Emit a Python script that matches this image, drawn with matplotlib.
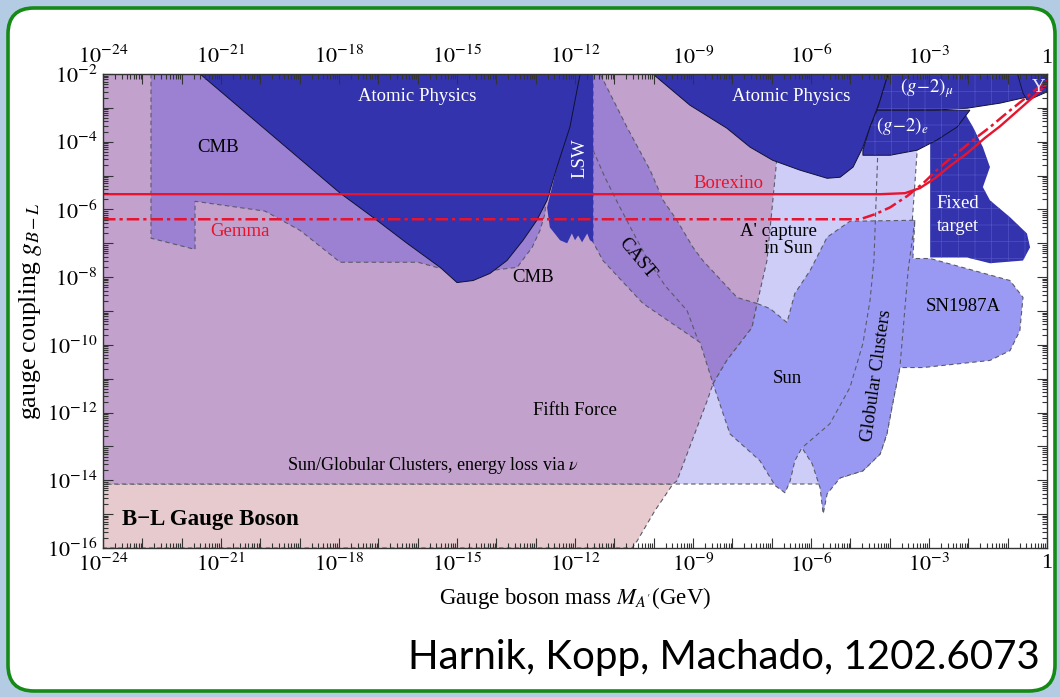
"""B-L gauge boson exclusion plot (Harnik, Kopp, Machado 1202.6073), redrawn."""

import numpy as np
import matplotlib

matplotlib.use("Agg")
import matplotlib.pyplot as plt
from matplotlib.patches import Polygon, FancyBboxPatch
from matplotlib.ticker import FixedLocator, FuncFormatter, LogLocator, NullFormatter
from matplotlib.transforms import IdentityTransform

plt.rcParams["font.family"] = ["Liberation Serif", "DejaVu Serif"]
plt.rcParams["mathtext.fontset"] = "stix"
plt.rcParams["hatch.linewidth"] = 0.5

# region boundaries, log10 of mass [GeV] and log10 of coupling g_{B-L}
nu_loss_g = -14.11  # Sun/GC energy loss via neutrinos

fifth_m = [-24, -6.79, -6.86, -6.97, -7.12, -7.37, -7.50, -8.14, -8.49, -8.64,
           -8.90, -9.15, -9.41, -9.51, -9.97, -10.42, -10.55, -24]
fifth_g = [-2, -2, -4.40, -5.73, -7.51, -8.78, -9.49, -10.46, -11.15, -11.65,
           -12.45, -13.22, -14.02, -14.11, -14.90, -15.79, -16.0, -16.0]

lav_m = [-24, -3.28, -3.30, -3.53, -3.74, -3.91, -4.07, -4.24, -4.68, -5.26, -5.52, -24]
lav_g = [-2, -2, -4.25, -8.10, -10.67, -11.65, -12.63, -13.22, -13.72, -13.93,
         nu_loss_g, nu_loss_g]

cmb_m = [-22.78, -22.78, -21.66, -21.66, -19.88, -18.99, -17.97, -15.99, -15.43,
         -14.11, -13.47, -13.09, -12.89, -12.76, -12.64]
cmb_g = [-2, -6.85, -7.18, -5.76, -6.05, -6.62, -7.56, -7.56, -7.74, -7.80, -7.71,
         -7.12, -6.62, -6.11, -2]

cast_m = [-11.54, -11.36, -10.68, -10.09, -9.76, -9.41, -9.0, -8.75, -7.88, -7.37,
          -7.50, -8.14, -8.49, -8.82, -10.27, -11.29, -11.54]
cast_g = [-2, -2, -3.57, -4.84, -5.73, -6.32, -7.12, -7.51, -8.60, -8.78, -9.49,
          -10.46, -11.15, -9.93, -8.78, -7.51, -6.97]
cast_in_m = [-11.54, -11.24, -10.91, -10.55, -10.14, -9.71, -9.15, -8.87]
cast_in_g = [-4.25, -5.05, -5.82, -6.62, -7.51, -8.25, -8.99, -9.87]

sun_m = [-8.49, -8.14, -7.50, -7.37, -7.04, -6.61, -6.41, -6.02, -5.59, -5.01, -3.36,
         -3.41, -2.97, -0.94, -0.61, -0.69, -0.94, -1.45, -3.15, -3.74, -3.91, -4.07,
         -4.24, -4.68, -5.26, -5.59, -5.69, -5.77, -5.97, -6.23, -6.41, -6.53, -6.66,
         -6.91, -7.30, -8.06]
sun_g = [-11.15, -10.46, -9.49, -8.78, -8.93, -9.34, -8.48, -7.80, -6.82, -6.35, -6.32,
         -7.45, -7.45, -8.10, -8.60, -9.58, -10.17, -10.46, -10.67, -10.67, -11.65,
         -12.63, -13.22, -13.72, -13.93, -14.40, -14.99, -14.22, -13.51, -13.04,
         -13.42, -14.02, -14.37, -14.16, -13.42, -12.63]
gc_left_m = [-4.30, -4.40, -4.50, -4.68, -5.01, -5.52, -6.23]
gc_left_g = [-4.25, -7.51, -8.69, -9.96, -11.26, -12.33, -13.04]
gc_right_m = [-3.36, -3.53, -3.74]
gc_right_g = [-6.32, -7.80, -10.67]

atom1_m = [-21.53, -17.97, -17.14, -16.27, -15.43, -15.0, -14.59, -14.16, -13.73,
           -13.32, -12.97, -12.71, -12.46, -12.13, -11.87]
atom1_g = [-2, -5.52, -6.23, -7.00, -7.71, -8.16, -8.10, -7.89, -7.51, -6.91, -6.32,
           -5.73, -4.75, -3.57, -2]
atom2_m = [-10.02, -9.08, -8.14, -7.55, -6.97, -6.28, -5.59, -5.26, -4.93, -4.68,
           -4.50, -4.24, -4.04]
atom2_g = [-2, -2.92, -3.60, -4.16, -4.55, -4.84, -5.08, -5.05, -4.75, -4.16, -3.57,
           -2.77, -2]
lsw_m = [-12.25, -11.54, -11.54, -11.62, -11.69, -11.82, -11.92, -12.0, -12.08,
         -12.20, -12.38, -12.64, -12.71, -12.46]
lsw_g = [-2, -2, -6.97, -6.91, -6.71, -6.97, -6.77, -6.91, -6.71, -7.0, -6.91, -6.53,
         -5.94, -4.75]
gm2mu_m = [-4.04, -4.24, -4.32, -2.90, -2.03, -1.19, -0.51, 0, 0]
gm2mu_g = [-2, -2.77, -3.07, -3.07, -3.01, -2.86, -2.68, -2.33, -2]
gm2e_m = [-4.32, -4.50, -4.68, -4.68, -3.99, -3.30, -2.80, -2.29, -1.96]
gm2e_g = [-3.07, -3.57, -4.25, -4.40, -4.40, -4.25, -3.95, -3.57, -3.07]
fixed_m = [-2.97, -2.97, -2.03, -1.45, -0.61, -0.43, -0.51, -0.94, -1.45, -1.63,
           -1.45, -1.63, -1.88, -2.13]
fixed_g = [-3.66, -7.42, -7.42, -7.59, -7.51, -7.12, -6.71, -6.23, -5.73, -5.34,
           -4.75, -4.16, -3.57, -3.07]
ups_m = [-0.75, -0.61, -0.51, -0.35, 0, 0]
ups_g = [-2, -2.56, -2.77, -2.71, -2.53, -2]

borexino_m = [-24, -4.24, -3.61, -3.23, -2.85, -2.47, -2.03, -1.58, -1.19, -0.76, -0.35, 0]
borexino_g = [-5.55, -5.55, -5.52, -5.37, -5.08, -4.72, -4.34, -3.89, -3.54, -3.10,
              -2.68, -2.30]
gemma_m = [-24, -4.75, -4.37, -3.99, -3.56, -3.15, -2.72, -2.29, -1.88, -1.45, -1.02,
           -0.61, 0]
gemma_g = [-6.29, -6.29, -6.14, -5.94, -5.61, -5.23, -4.75, -4.34, -3.95, -3.57, -3.15,
           -2.77, -2.18]

PINK, MAUVE, LAV = "#E7CACD", "#C2A2CD", "#CDCDF8"
PURPLE, MBLUE, DBLUE = "#9C80D2", "#9999F3", "#3333AD"
RED = "#E8132D"
DASH = (0, (4, 3))
EDGE = "#5a5a6a"


def pts(m, g):
    return np.column_stack([10.0 ** np.asarray(m, float), 10.0 ** np.asarray(g, float)])


def region(ax, m, g, color, z, edge="none", ls="-", lw=0.8, hatch=False):
    xy = pts(m, g)
    ax.add_patch(Polygon(xy, closed=True, facecolor=color, edgecolor=edge,
                         linestyle=ls, lw=lw, zorder=z))
    if hatch:
        ax.add_patch(Polygon(xy, closed=True, fill=False, hatch="+",
                             edgecolor="#5252c4", lw=0, zorder=z + 0.01))


def curve(ax, m, g, **kw):
    xy = pts(m, g)
    ax.plot(xy[:, 0], xy[:, 1], **kw)


fig = plt.figure(figsize=(10.6, 6.97), dpi=100)
fig.patch.set_facecolor("#B3CCE4")
frame = FancyBboxPatch((8, 6), 1047, 683, boxstyle="round,pad=0,rounding_size=26",
                       transform=IdentityTransform(), facecolor="white",
                       edgecolor="#168A16", lw=2.6, zorder=-5)
fig.add_artist(frame)

ax = fig.add_axes([103 / 1060, 1 - 548 / 697, 944 / 1060, 474 / 697])
ax.set_xscale("log")
ax.set_yscale("log")
ax.set_xlim(1e-24, 1)
ax.set_ylim(1e-16, 1e-2)

# layered exclusion regions
region(ax, fifth_m, fifth_g, PINK, 1.0, EDGE, DASH)
region(ax, lav_m, lav_g, LAV, 1.1, EDGE, DASH)
region(ax, fifth_m, np.maximum(fifth_g, nu_loss_g), MAUVE, 1.2, EDGE, DASH)
region(ax, cmb_m, cmb_g, PURPLE, 1.3, EDGE, DASH)
region(ax, cast_m, cast_g, PURPLE, 1.3, EDGE, DASH)
curve(ax, cast_in_m, cast_in_g, color=EDGE, lw=0.8, ls=DASH, zorder=1.35)
region(ax, sun_m, sun_g, MBLUE, 1.4, EDGE, DASH)
curve(ax, gc_left_m, gc_left_g, color=EDGE, lw=0.8, ls=DASH, zorder=1.45)
curve(ax, gc_right_m, gc_right_g, color=EDGE, lw=0.8, ls=DASH, zorder=1.45)

region(ax, lsw_m, lsw_g, DBLUE, 1.5)
region(ax, atom1_m, atom1_g, DBLUE, 1.55, "#111133", lw=0.7)
region(ax, atom2_m, atom2_g, DBLUE, 1.55, "#111133", lw=0.7)
region(ax, fixed_m, fixed_g, DBLUE, 1.5, hatch=True)
region(ax, gm2mu_m, gm2mu_g, DBLUE, 1.6, "#111133", lw=0.7, hatch=True)
region(ax, gm2e_m, gm2e_g, DBLUE, 1.6, "#111133", lw=0.7, hatch=True)
region(ax, ups_m, ups_g, DBLUE, 1.65, "#111133", lw=0.6)

curve(ax, borexino_m, borexino_g, color=RED, lw=1.7, zorder=2)
curve(ax, gemma_m, gemma_g, color=RED, lw=1.8, dashes=(5, 1.6, 1.3, 1.6), zorder=2)

lab = dict(fontsize=13.5, ha="center", va="center", zorder=3)
ax.text(10**-16.02, 10**-2.65, "Atomic Physics", color="white", **lab)
ax.text(10**-6.51, 10**-2.65, "Atomic Physics", color="white", **lab)
ax.text(10**-21.08, 10**-4.16, "CMB", **lab)
ax.text(10**-13.07, 10**-8.01, "CMB", **lab)
ax.text(10**-11.87, 10**-4.49, "LSW", color="white", rotation=90, **lab)
ax.text(10**-10.42, 10**-7.45, "CAST", rotation=-50, **lab)
ax.text(10**-8.11, 10**-5.23, "Borexino", color=RED, **lab)
ax.text(10**-20.52, 10**-6.65, "Gemma", color=RED, **lab)
ax.text(10**-6.84, 10**-6.65, "A' capture", **lab)
ax.text(10**-6.58, 10**-7.15, "in Sun", **lab)
ax.text(10**-2.26, 10**-5.82, "Fixed", color="white", **lab)
ax.text(10**-2.26, 10**-6.50, "target", color="white", **lab)
ax.text(10**-3.05, 10**-2.41, r"$(g\!-\!2)_\mu$", color="white", **lab)
ax.text(10**-3.68, 10**-3.54, r"$(g\!-\!2)_e$", color="white", **lab)
ax.text(10**-0.22, 10**-2.41, "Υ", color="#e8e8ff", **lab)
ax.text(10**-2.13, 10**-8.87, "SN1987A", **lab)
ax.text(10**-6.61, 10**-11.0, "Sun", **lab)
ax.text(10**-4.32, 10**-10.91, "Globular Clusters", rotation=82, **lab)
ax.text(10**-12.0, 10**-11.94, "Fifth Force", **lab)
ax.text(10**-15.61, 10**-13.57, r"Sun/Globular Clusters, energy loss via $\nu$",
        fontsize=13, ha="center", va="center", zorder=3)
ax.text(10**-23.52, 10**-15.17, "B\u2212L Gauge Boson", fontsize=16.5,
        fontweight="bold", ha="left", va="center", zorder=3)


def xfmt(v, pos):
    k = int(round(np.log10(v)))
    if k % 3:
        return ""
    return "1" if k == 0 else rf"$10^{{{k}}}$"


def yfmt(v, pos):
    k = int(round(np.log10(v)))
    return "" if k % 2 else rf"$10^{{{k}}}$"


ax.xaxis.set_major_locator(FixedLocator(10.0 ** np.arange(-24, 1)))
ax.xaxis.set_major_formatter(FuncFormatter(xfmt))
ax.yaxis.set_major_locator(FixedLocator(10.0 ** np.arange(-16, -1)))
ax.yaxis.set_major_formatter(FuncFormatter(yfmt))
for axis in (ax.xaxis, ax.yaxis):
    axis.set_minor_locator(LogLocator(base=10, subs=np.arange(2, 10), numticks=200))
    axis.set_minor_formatter(NullFormatter())

ax.set_axisbelow(False)
ax.tick_params(which="both", direction="in", top=True, right=True, labeltop=True,
               width=0.8, color="#333333", labelsize=16)
ax.tick_params(which="major", length=7, pad=4)
ax.tick_params(which="minor", length=3.5)
for sp in ax.spines.values():
    sp.set_color("#333333")
    sp.set_linewidth(1.0)

ax.set_xlabel(r"Gauge boson mass $M_{A'}$(GeV)", fontsize=16.5, labelpad=6)
ax.set_ylabel(r"gauge coupling $g_{B-L}$", fontsize=18.5, labelpad=2)

credit = fig.text(1040 / 1060, 1 - 658 / 697, "Harnik, Kopp, Machado, 1202.6073",
                  family=["Lato", "Liberation Sans"], fontsize=31,
                  ha="right", va="center")
# shrink the credit line so it spans the same width as on the slide
fig.canvas.draw()
width = credit.get_window_extent().width
credit.set_fontsize(31 * 630 / width)

fig.savefig("out.png", dpi=100, facecolor=fig.get_facecolor())
